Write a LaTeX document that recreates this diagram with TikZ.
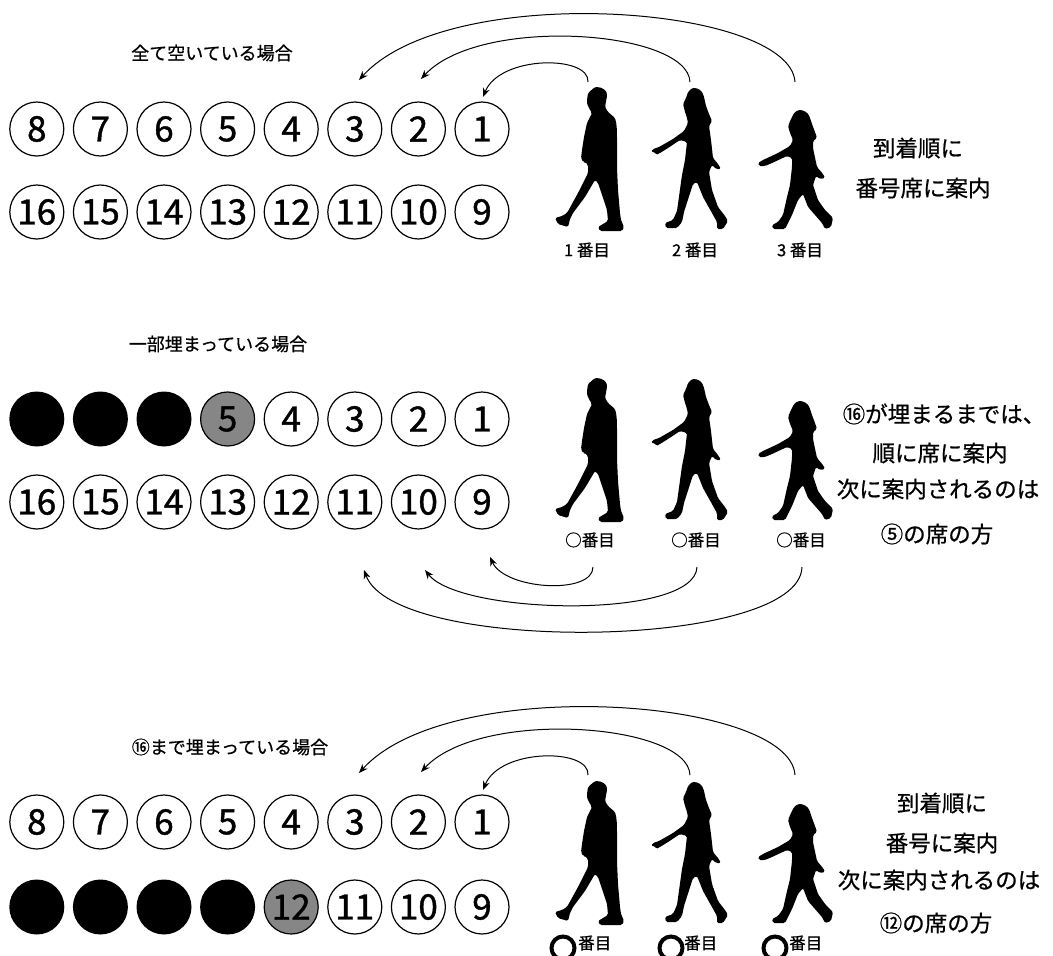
\documentclass[tikz,border=0pt]{standalone}
\usepackage{fontspec}
\setmainfont{Noto Sans CJK JP}[FakeBold=0.7]
\newfontfamily\seatfont{Noto Sans CJK JP}[FakeBold=1.2]
\usetikzlibrary{arrows.meta}
\definecolor{seatgray}{RGB}{134,134,134}
\tikzset{
  seat/.style={circle, draw, line width=1.2pt, minimum size=54pt, inner sep=0pt, font=\seatfont\fontsize{35}{35}\selectfont},
  fullseat/.style={circle, fill=black, minimum size=55pt, inner sep=0pt},
  nextseat/.style={seat, fill=seatgray},
  title/.style={inner sep=0pt, font=\fontsize{18}{18}\selectfont},
  note/.style={inner sep=0pt, font=\fontsize{22.5}{22.5}\selectfont},
  plabel/.style={inner sep=0pt, font=\fontsize{16.5}{16.5}\selectfont},
  bigo/.style={circle, draw, line width=4pt, minimum size=23pt, inner sep=0pt},
  flow/.style={line width=1pt, -{Stealth[length=9pt,width=7pt]}},
  figure/.style={fill=black, rounded corners=1.5pt}
}
\newcommand\drawManFig{%
  \fill[figure] (595,87) .. controls (603,87) and (607,91) .. (607,96) -- (605,107) -- (608,112) -- (615,118) .. controls (617,125) and (617,132) .. (617,140) -- (617,168) -- (618,190) -- (620,213) -- (621,220) -- (624,227) -- (622,231) -- (600,231) -- (598,227) -- (608,221) -- (607,210) -- (598,183) -- (595,180) -- (585,197) -- (573,213) -- (570,219) -- (568,227) -- (558,224) -- (555,218) -- (562,216) -- (567,213) -- (578,193) -- (588,173) -- (588,165) -- (585,162) -- (583,162) -- (581,158) -- (582,150) -- (584,137) -- (587,123) -- (592,113) -- (590,110) -- (587,104) -- (587,100) -- (588,93) -- cycle;}
\newcommand\drawWomanAFig{%
  \fill[figure] (692,88) .. controls (698,88) and (702,90) .. (704,97) -- (706,106) -- (709,114) -- (712,121) -- (709,126) -- (711,140) -- (713,158) -- (718,164) -- (721,169) -- (716,169) -- (712,165) -- (709,172) -- (712,190) -- (718,207) -- (725,216) -- (728,221) -- (723,229) -- (717,229) -- (717,222) -- (703,197) -- (697,182) -- (693,184) -- (684,212) -- (682,222) -- (677,228) -- (666,228) -- (665,223) -- (673,220) -- (677,211) -- (682,175) -- (685,160) -- (687,142) -- (680,140) -- (668,148) -- (660,153) -- (656,155) -- (655,152) -- (651,152) -- (653,149) -- (659,147) -- (673,139) -- (684,131) -- (688,123) -- (687,118) -- (685,112) -- (683,104) -- (686,98) -- (688,92) -- cycle;}
\newcommand\drawWomanBFig{%
  \fill[figure] (798,110) .. controls (803,110) and (808,112) .. (810,118) -- (812,124) -- (815,132) -- (817,138) -- (813,141) -- (813,148) -- (817,167) -- (823,174) -- (825,178) -- (820,179) -- (816,176) -- (813,185) -- (818,200) -- (825,210) -- (833,218) -- (831,227) -- (825,229) -- (822,223) -- (808,207) -- (803,194) -- (798,200) -- (792,215) -- (788,223) -- (785,229) -- (773,229) -- (772,225) -- (778,222) -- (783,215) -- (787,197) -- (790,185) -- (792,167) -- (792,158) -- (787,156) -- (772,163) -- (765,166) -- (759,166) -- (758,163) -- (763,160) -- (778,153) -- (790,146) -- (793,140) -- (790,133) -- (788,126) -- (791,119) -- (794,113) -- cycle;}
\begin{document}
\begin{tikzpicture}[x=1pt, y=-1pt]
\useasboundingbox (0,0) rectangle (1053,956);
\fill[white] (0,0) rectangle (1053,956);

% ---------- section 1 ----------
\node[title] (t1) at (212,53) {全て空いている場合};
\foreach \n in {1,...,8} \node[seat] (a\n) at ({482-(\n-1)*63.6},129) {\n};
\foreach \n in {9,...,16} \node[seat] (a\n) at ({482-(\n-9)*63.6},212) {\n};
\drawManFig \drawWomanAFig \drawWomanBFig
\node[plabel] (la1) at (587,250) {1 番目};
\node[plabel] (la2) at (695,250) {2 番目};
\node[plabel] (la3) at (800,250) {3 番目};
\node[note] (na1) at (918,148) {到着順に};
\node[note] (na2) at (923,188) {番号席に案内};
\coordinate (pa1) at (588,82);
\coordinate (pa2) at (690,82);
\coordinate (pa3) at (795,82);
\coordinate (sa1) at (483,97);
\coordinate (sa2) at (421,79);
\coordinate (sa3) at (359,80);
\draw[flow] (pa1) .. controls (590,55) and (500,55) .. (sa1);
\draw[flow] (pa2) .. controls (688,30) and (480,15) .. (sa2);
\draw[flow] (pa3) .. controls (790,5) and (450,-20) .. (sa3);

% ---------- section 2 ----------
\node[title] (t2) at (218,344) {一部埋まっている場合};
\foreach \n in {1,...,4} \node[seat] (b\n) at ({482-(\n-1)*63.6},419) {\n};
\node[nextseat] (b5) at (227.6,419) {5};
\foreach \n in {6,7,8} \node[fullseat] (b\n) at ({482-(\n-1)*63.6},419) {};
\foreach \n in {9,...,16} \node[seat] (b\n) at ({482-(\n-9)*63.6},502) {\n};
\begin{scope}[shift={(0,291)}]
\drawManFig \drawWomanAFig \drawWomanBFig
\end{scope}
\node[plabel] (lb1) at (590,540) {○番目};
\node[plabel] (lb2) at (696,540) {○番目};
\node[plabel] (lb3) at (801,540) {○番目};
\node[note] (nb1) at (944,414) {⑯が埋まるまでは、};
\node[note] (nb2) at (940,453) {順に席に案内};
\node[note] (nb3) at (938,489) {次に案内されるのは};
\node[note] (nb4) at (937,534) {⑤の席の方};
\coordinate (pb1) at (593,567);
\coordinate (pb2) at (697,567);
\coordinate (pb3) at (802,567);
\coordinate (sb1) at (490,557);
\coordinate (sb2) at (425,570);
\coordinate (sb3) at (364,570);
\draw[flow] (pb1) .. controls (593,595) and (505,590) .. (sb1);
\draw[flow] (pb2) .. controls (695,620) and (460,615) .. (sb2);
\draw[flow] (pb3) .. controls (800,650) and (395,655) .. (sb3);

% ---------- section 3 ----------
\node[title] (t3) at (230,747) {⑯まで埋まっている場合};
\foreach \n in {1,...,8} \node[seat] (c\n) at ({482-(\n-1)*63.6},822) {\n};
\foreach \n in {9,10,11} \node[seat] (c\n) at ({482-(\n-9)*63.6},907) {\n};
\node[nextseat] (c12) at (291.2,907) {12};
\foreach \n in {13,...,16} \node[fullseat] (c\n) at ({482-(\n-9)*63.6},907) {};
\begin{scope}[shift={(0,694)}]
\drawManFig \drawWomanAFig \drawWomanBFig
\end{scope}
\node[bigo] (oc1) at (563,948) {};
\node[bigo] (oc2) at (671,948) {};
\node[bigo] (oc3) at (775,948) {};
\node[plabel, anchor=west] (lc1) at (578,943) {番目};
\node[plabel, anchor=west] (lc2) at (684,943) {番目};
\node[plabel, anchor=west] (lc3) at (789,943) {番目};
\node[note] (nc1) at (942,803) {到着順に};
\node[note] (nc2) at (942,843) {番号に案内};
\node[note] (nc3) at (939,880) {次に案内されるのは};
\node[note] (nc4) at (936,923) {⑫の席の方};
\coordinate (pc1) at (588,775);
\coordinate (pc2) at (690,775);
\coordinate (pc3) at (795,775);
\coordinate (sc1) at (483,790);
\coordinate (sc2) at (421,772);
\coordinate (sc3) at (359,773);
\draw[flow] (pc1) .. controls (590,748) and (500,748) .. (sc1);
\draw[flow] (pc2) .. controls (688,723) and (480,708) .. (sc2);
\draw[flow] (pc3) .. controls (790,698) and (450,673) .. (sc3);
\end{tikzpicture}
\end{document}
